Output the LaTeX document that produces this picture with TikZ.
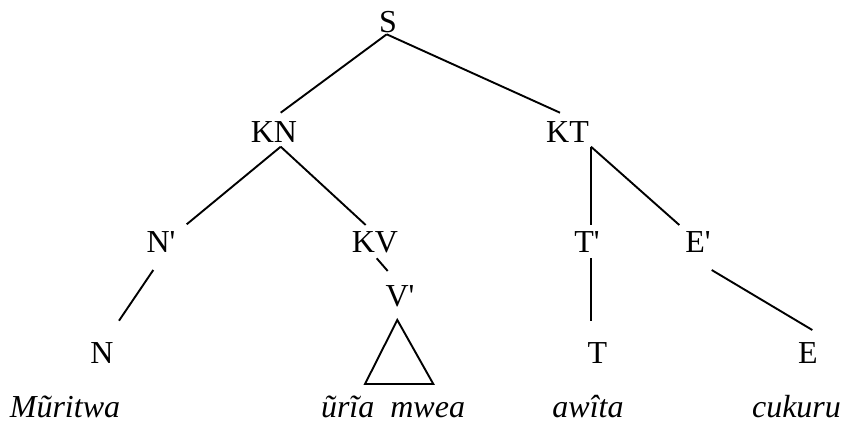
\documentclass[tikz,border=0pt]{standalone}
\usepackage{fontspec}
\setmainfont{Liberation Serif}[Ligatures=TeXOff]
\begin{document}
\begin{tikzpicture}[x=1pt,y=-1pt,
  lab/.style={inner sep=0pt,outer sep=0pt,anchor=base,font=\fontsize{32}{38}\selectfont},
  word/.style={lab,font=\fontsize{32}{38}\selectfont\itshape},
  edge/.style={draw=black,line width=1.9pt,line cap=butt,line join=miter}]
\useasboundingbox (0,0) rectangle (844,423);
% nodes
\node[lab] (S)  at (388,32.5) {S};
\node[lab] (KN) at (274,142.7) {KN};
\node[lab] (KT) at (567.5,142.7) {KT};
\node[lab] (Np) at (161,252.7) {N'};
\node[lab] (KV) at (375,252.7) {KV};
\node[lab] (Tp) at (587,252.7) {T'};
\node[lab] (Ep) at (698,252.7) {E'};
\node[lab] (Vp) at (400,306.7) {V'};
\node[lab] (N)  at (102,363.3) {N};
\node[lab] (T)  at (597.5,363.3) {T};
\node[lab] (E)  at (808,363.3) {E};
\node[word] (w1) at (65,417) {Mũritwa};
\node[word] (w2) at (393,417) {ũrĩa~~mwea};
\node[word] (w3) at (588,417) {awîta};
\node[word] (w4) at (796.5,417) {cukuru};
% connectors
\draw[edge] ([shift={(-1.3,1.8)}]S.base) -- ([shift={(6.7,-30)}]KN.base);
\draw[edge] ([shift={(-1.3,1.8)}]S.base) -- ([shift={(-7.5,-30)}]KT.base);
\draw[edge] ([shift={(6.7,4)}]KN.base) -- ([shift={(25.7,-28.4)}]Np.base);
\draw[edge] ([shift={(6.7,4)}]KN.base) -- ([shift={(-9.3,-27.7)}]KV.base);
\draw[edge] ([shift={(23.5,4)}]KT.base) -- ([shift={(4,-27.7)}]Tp.base);
\draw[edge] ([shift={(23.5,4)}]KT.base) -- ([shift={(-18.7,-27.7)}]Ep.base);
\draw[edge] ([shift={(-7.7,17.3)}]Np.base) -- ([shift={(17,-42.6)}]N.base);
\draw[edge] ([shift={(1.7,5.6)}]KV.base) -- ([shift={(-12.3,-35.7)}]Vp.base);
\draw[edge] ([shift={(4,5.6)}]Tp.base) -- ([shift={(-6.5,-42.6)}]T.base);
\draw[edge] ([shift={(13.7,17.3)}]Ep.base) -- ([shift={(4.3,-33.3)}]E.base);
% triangle under V'
\draw[edge] ([shift={(-2.7,13.3)}]Vp.base) -- ([shift={(-35,77.3)}]Vp.base)
  -- ([shift={(33.3,77.3)}]Vp.base) -- cycle;
\end{tikzpicture}
\end{document}
